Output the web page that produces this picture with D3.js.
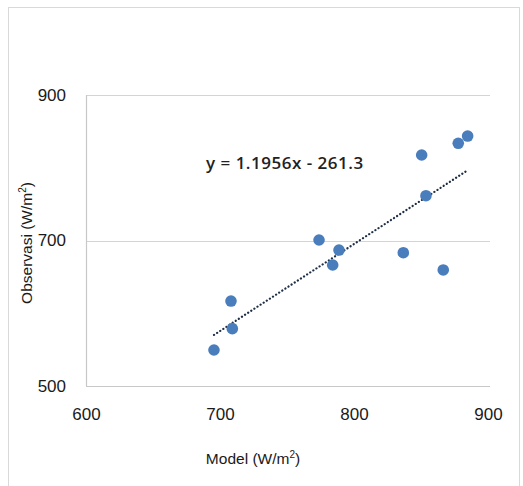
<!DOCTYPE html>
<html>
<head>
<meta charset="utf-8">
<script src="https://cdn.jsdelivr.net/npm/d3@7/dist/d3.min.js"></script>
<style>
  html, body { margin: 0; padding: 0; background: #fff; }
  svg { display: block; font-family: "Liberation Sans", Arial, sans-serif; }
</style>
</head>
<body>
<svg id="chart" width="523" height="486"></svg>
<script>
// Modelled vs observed irradiance (W/m²)
const modelValues = [695.5, 708.2, 709.2, 773.9, 788.8, 784.1, 836.8, 866.6, 850.5, 853.7, 877.8, 884.8];
const observedValues = [549.5, 616.8, 578.8, 700.7, 686.9, 666.3, 683.2, 659.5, 817.5, 761.6, 833.6, 843.6];
const xTicks = [600, 700, 800, 900];
const yTicks = [500, 700, 900];
// Linear trend line coefficients
const slope = 1.1956;
const intercept = -261.3;
const trendLabel = "y = 1.1956x - 261.3";

const points = modelValues.map((m, i) => ({ x: m, y: observedValues[i] }));

const svg = d3.select("#chart");

// chart frame
svg.append("rect")
  .attr("x", 8.5).attr("y", 7.5)
  .attr("width", 511).attr("height", 490)
  .attr("fill", "#fff")
  .attr("stroke", "#d9d9d9")
  .attr("stroke-width", 1);

const x = d3.scaleLinear().domain([600, 900]).range([86, 488]);
const y = d3.scaleLinear().domain([500, 900]).range([386, 95]);

// horizontal gridlines
svg.append("g")
  .selectAll("line")
  .data(yTicks.filter(t => t !== 500))
  .join("line")
  .attr("x1", x(600)).attr("x2", x(900) + 2)
  .attr("y1", d => Math.round(y(d)) + 0.5)
  .attr("y2", d => Math.round(y(d)) + 0.5)
  .attr("stroke", "#d4d4d4")
  .attr("stroke-width", 1.2);

// axes lines
svg.append("line")
  .attr("x1", x(600) + 0.5).attr("x2", x(600) + 0.5)
  .attr("y1", y(900)).attr("y2", y(500))
  .attr("stroke", "#c8c8c8").attr("stroke-width", 1.2);
svg.append("line")
  .attr("x1", x(600)).attr("x2", x(900) + 2)
  .attr("y1", Math.round(y(500)) + 0.5).attr("y2", Math.round(y(500)) + 0.5)
  .attr("stroke", "#c8c8c8").attr("stroke-width", 1.2);

// tick labels
const xAxis = d3.axisBottom(x).tickValues(xTicks).tickSize(0).tickPadding(0).tickFormat(d3.format("d"));
const gx = svg.append("g").attr("transform", `translate(0, ${y(500) + 22})`).call(xAxis);
gx.select(".domain").remove();
gx.selectAll("text")
  .style("font-size", "17px").style("fill", "#1a1a1a")
  .style("font-family", "'Liberation Sans', Arial, sans-serif");

const yAxis = d3.axisLeft(y).tickValues(yTicks).tickSize(0).tickPadding(0).tickFormat(d3.format("d"));
const gy = svg.append("g").attr("transform", `translate(66, 0)`).call(yAxis);
gy.select(".domain").remove();
gy.selectAll("text")
  .style("font-size", "17px").style("fill", "#1a1a1a")
  .style("font-family", "'Liberation Sans', Arial, sans-serif");

// trend line (dotted), spanning the model range
const xExt = d3.extent(modelValues);
const trend = xExt.map(v => ({ x: v, y: slope * v + intercept }));
svg.append("path")
  .datum(trend)
  .attr("d", d3.line().x(d => x(d.x)).y(d => y(d.y)))
  .attr("fill", "none")
  .attr("stroke", "#1e2f45")
  .attr("stroke-width", 2.2)
  .attr("stroke-linecap", "round")
  .attr("stroke-dasharray", "0.1 3.6");

// data points
svg.append("g")
  .selectAll("circle")
  .data(points)
  .join("circle")
  .attr("cx", d => x(d.x))
  .attr("cy", d => y(d.y))
  .attr("r", 5.8)
  .attr("fill", "#4a7dbb");

// trend equation
svg.append("text")
  .attr("x", 206).attr("y", 169)
  .style("font-size", "17px")
  .style("font-weight", 600)
  .style("letter-spacing", "0.5px")
  .style("font-family", "'Open Sans', 'Liberation Sans', sans-serif")
  .style("fill", "#222")
  .text(trendLabel);

// axis titles
const xTitle = svg.append("text")
  .attr("x", 253).attr("y", 464)
  .attr("text-anchor", "middle")
  .style("font-size", "15.5px").style("fill", "#1a1a1a");
xTitle.append("tspan").text("Model (W/m");
xTitle.append("tspan").style("font-size", "10px").attr("dy", -6).text("2");
xTitle.append("tspan").attr("dy", 6).text(")");

const yTitle = svg.append("text")
  .attr("transform", "translate(32, 243) rotate(-90)")
  .attr("text-anchor", "middle")
  .style("font-size", "15.5px").style("fill", "#1a1a1a");
yTitle.append("tspan").text("Observasi (W/m");
yTitle.append("tspan").style("font-size", "10px").attr("dy", -6).text("2");
yTitle.append("tspan").attr("dy", 6).text(")");
</script>
</body>
</html>
